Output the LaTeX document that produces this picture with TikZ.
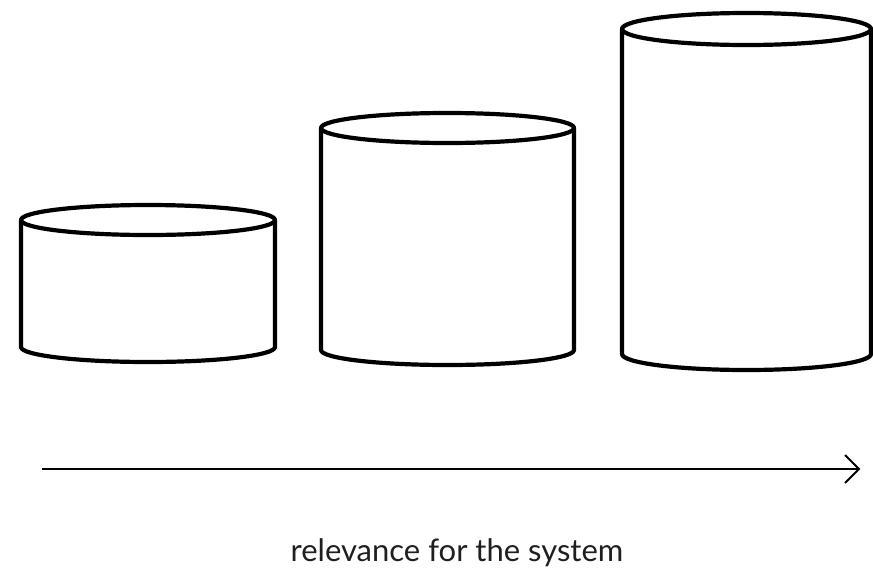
\documentclass[tikz,border=0pt]{standalone}
\usepackage{fontspec}
\setmainfont{Lato}
% a can: left x, right x, top-rim centre y, bottom-rim centre y, rim half-height
\newcommand\drawcan[5]{%
  \pgfmathsetmacro\canrx{(#2-#1)/2}%
  \pgfmathsetmacro\canmx{(#1+#2)/2}%
  \draw[canline] (#1,#3) -- (#1,#4) arc[start angle=180,end angle=360,x radius=\canrx,y radius=-#5] -- (#2,#3);
  \draw[canline] (\canmx,#3) ellipse[x radius=\canrx,y radius=#5];
}
\begin{document}
\begin{tikzpicture}[x=1pt,y=-1pt,
  canline/.style={line width=4.2pt,line join=round,line cap=round},
  axis/.style={line width=2pt,line join=miter,line cap=butt},
  caption/.style={font=\fontsize{31}{36}\selectfont,text=black!88}]
  \useasboundingbox (0,0) rectangle (873,579);
  \drawcan{21}{275}{220}{347}{15}
  \drawcan{321}{574}{128}{350}{15}
  \drawcan{622}{871}{29}{354}{16}
  \coordinate (axisstart) at (42,469);
  \coordinate (axisend) at (859,469);
  \draw[axis] (axisstart) -- (axisend);
  \draw[axis] ([shift={(-14,-14)}]axisend) -- (axisend) -- ([shift={(-14,14)}]axisend);
  \node[caption] (label) at (457,553) {relevance for the system};
\end{tikzpicture}
\end{document}
